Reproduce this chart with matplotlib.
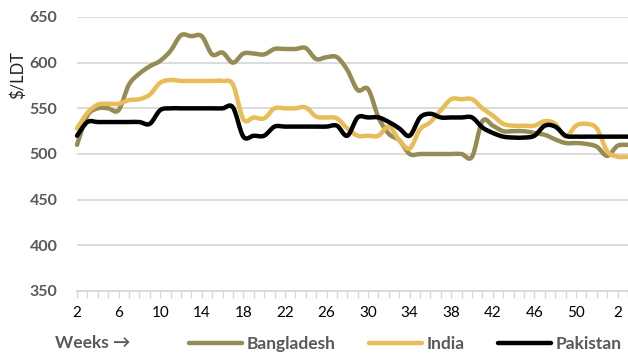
import numpy as np
from matplotlib import pyplot as plt
from matplotlib.path import Path
from matplotlib.patches import PathPatch
from matplotlib.lines import Line2D

# Недели: со 2-й недели года по 3-ю неделю следующего
weeks = list(range(2, 53)) + [1, 2, 3]
tick_labels = [str(w) for w in weeks]

bangladesh = [510, 542, 550, 550, 548, 576, 588, 596, 602, 613, 630, 629, 629, 609, 611, 600,
              610, 610, 609, 615, 615, 615, 616, 604, 606, 606, 592, 570, 571, 540, 522, 515,
              500, 500, 500, 500, 500, 500, 497, 536, 531, 525, 525, 525, 523, 521, 516, 512,
              512, 511, 508, 498, 509, 510]
india = [528, 545, 554, 555, 555, 559, 560, 565, 578, 581, 580, 580, 580, 580, 580, 576,
         538, 540, 539, 550, 550, 550, 551, 541, 540, 539, 528, 520, 520, 520, 530, 515,
         506, 527, 535, 548, 560, 560, 560, 550, 542, 533, 531, 531, 531, 536, 533, 519,
         531, 533, 528, 503, 497, 497]
pakistan = [520, 535, 535, 535, 535, 535, 535, 533, 548, 550, 550, 550, 550, 550, 550, 551,
            519, 520, 520, 530, 530, 530, 530, 530, 530, 531, 520, 540, 540, 540, 535, 528,
            520, 540, 544, 540, 540, 540, 540, 529, 523, 519, 518, 518, 520, 531, 530, 520,
            519, 519, 519, 519, 519, 519]


def smooth_path(xs, ys):
    # сглаженная линия как в Excel: кривые Безье через все точки
    pts = np.column_stack([xs, ys]).astype(float)
    n = len(pts)
    verts = [pts[0]]
    codes = [Path.MOVETO]
    for i in range(n - 1):
        p0 = pts[max(i - 1, 0)]
        p1 = pts[i]
        p2 = pts[i + 1]
        p3 = pts[min(i + 2, n - 1)]
        verts += [p1 + (p2 - p0) / 6, p2 - (p3 - p1) / 6, p2]
        codes += [Path.CURVE4] * 3
    return Path(verts, codes)


plt.rcParams['font.family'] = ['Lato', 'DejaVu Sans']

fig = plt.figure(figsize=(6.28, 3.54), dpi=100)
ax = fig.add_axes([77 / 628, 1 - 291 / 354, 1 - 77 / 628, (291 - 17) / 354])

x = np.arange(len(weeks))
colors = {'Bangladesh': '#958B55', 'India': '#E8BC56', 'Pakistan': '#000000'}
handles = []
for name, vals in [('Bangladesh', bangladesh), ('India', india), ('Pakistan', pakistan)]:
    patch = PathPatch(smooth_path(x, vals), fill=False, edgecolor=colors[name], lw=3.2,
                      joinstyle='round', capstyle='round', clip_on=False, zorder=3)
    ax.add_patch(patch)
    handles.append(Line2D([], [], color=colors[name], lw=3.2, solid_capstyle='round'))

ax.set_ylim(350, 650)
ax.set_xlim(0, (628 - 77) / 10.45)
ax.set_yticks(range(350, 651, 50))
ax.grid(axis='y', color='#D9D9D9', lw=1.3)
ax.set_axisbelow(True)

ax.set_xticks(x, minor=True)
ax.set_xticks(x[::4])
ax.set_xticklabels(tick_labels[::4])
ax.tick_params(axis='x', which='both', length=5, color='#D9D9D9', width=1)
ax.tick_params(axis='x', which='major', labelsize=11, labelcolor='#000000', pad=6)
ax.tick_params(axis='y', length=0, labelsize=11.5, labelcolor='#595959', pad=14)
for lbl in ax.get_yticklabels():
    lbl.set_fontweight('bold')

for s in ['top', 'right', 'left']:
    ax.spines[s].set_visible(False)
ax.spines['bottom'].set_color('#D9D9D9')
ax.spines['bottom'].set_linewidth(1.3)

fig.text(18 / 628, 1 - 75 / 354, '$/LDT', rotation=90, ha='center', va='center',
         fontsize=12, color='#222222')
fig.text(55 / 628, 1 - 343 / 354, 'Weeks \u2192', ha='left', va='center',
         fontsize=12.5, fontweight='bold', color='#595959')

leg = fig.legend(handles, ['Bangladesh', 'India', 'Pakistan'], loc='center left',
                 bbox_to_anchor=(189 / 628, 1 - 344 / 354), ncol=3,
                 frameon=False, fontsize=12.5, handlelength=3.05, handletextpad=0.28,
                 columnspacing=1.9, borderaxespad=0, borderpad=0)
for t in leg.get_texts():
    t.set_fontweight('bold')
    t.set_color('#595959')

fig.savefig('out.png', dpi=100)
